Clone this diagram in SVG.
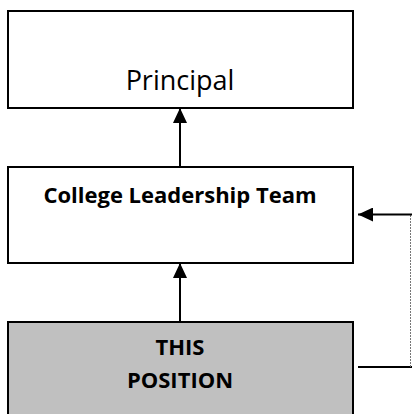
<svg xmlns="http://www.w3.org/2000/svg" width="412" height="414" viewBox="0 0 412 414">
  <style>
    .box { stroke: #000; stroke-width: 2; }
    .plain { fill: #fff; }
    .shaded { fill: #c0c0c0; }
    .label { font-family: "Open Sans", "Noto Sans", sans-serif; fill: #000; text-anchor: middle; }
    .bold { font-weight: bold; font-size: 22px; }
    .link { stroke: #000; stroke-width: 2; fill: none; }
    .dotted { stroke: #777; stroke-width: 1; stroke-dasharray: 2 1; fill: none; }
  </style>
  <defs>
    <marker id="arrow" markerUnits="userSpaceOnUse" markerWidth="16" markerHeight="14" refX="15" refY="7" orient="auto">
      <path d="M0,0 L15,7 L0,14 Z" fill="#000"/>
    </marker>
  </defs>
  <rect width="412" height="414" fill="#fff"/>

  <g id="principal">
    <rect class="box plain" x="8" y="11" width="345" height="97"/>
    <text class="label" x="180" y="90" font-size="27">Principal</text>
  </g>

  <g id="college-leadership-team">
    <rect class="box plain" x="8" y="167" width="345" height="96"/>
    <text class="label bold" x="180" y="203">College Leadership Team</text>
  </g>

  <g id="this-position">
    <rect class="box shaded" x="8" y="322" width="345" height="110"/>
    <text class="label bold" x="180" y="355">THIS</text>
    <text class="label bold" x="180" y="388">POSITION</text>
  </g>

  <g id="connectors">
    <line class="link" x1="180" y1="166" x2="180" y2="108" marker-end="url(#arrow)"/>
    <line class="link" x1="180" y1="321" x2="180" y2="263" marker-end="url(#arrow)"/>
    <line class="link" x1="358" y1="367" x2="412" y2="367"/>
    <line class="dotted" x1="410.5" y1="367" x2="410.5" y2="215"/>
    <line class="link" x1="412" y1="214.5" x2="358" y2="214.5" marker-end="url(#arrow)"/>
  </g>
</svg>
